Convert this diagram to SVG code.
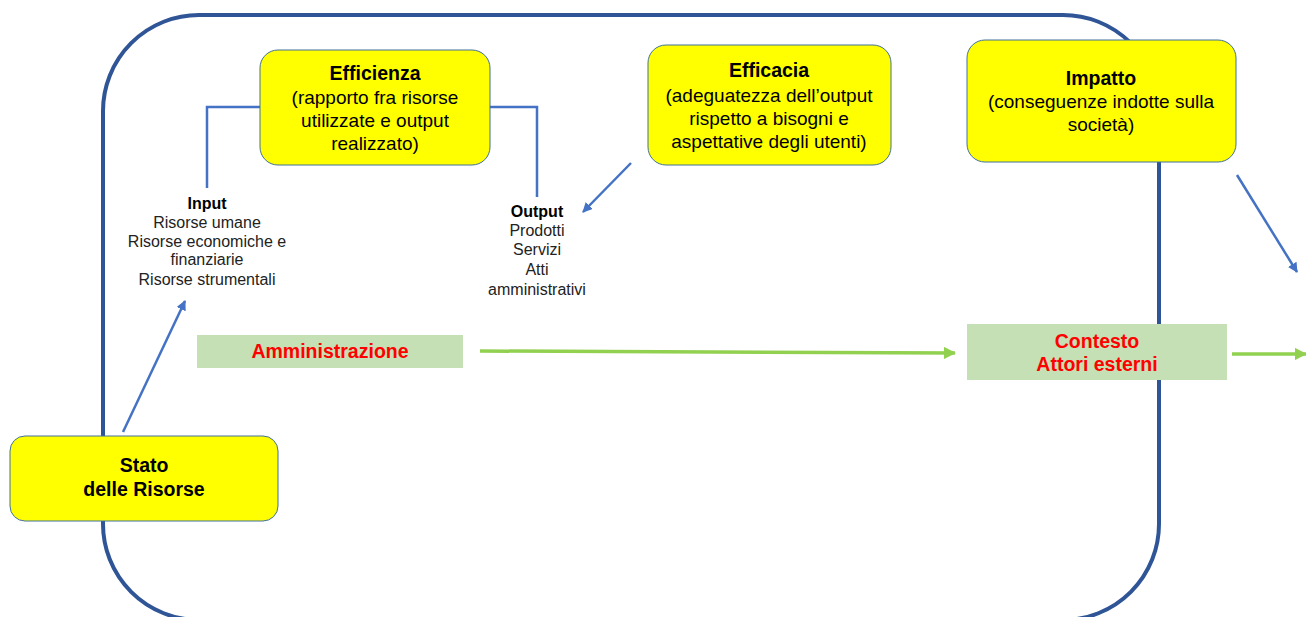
<svg xmlns="http://www.w3.org/2000/svg" width="1306" height="617" viewBox="0 0 1306 617">
<defs>
<style>
.frame{fill:none;stroke:#2F5597;stroke-width:4}
.ybox{fill:#FFFF00;stroke:#41719C;stroke-width:1}
.gbox{fill:#C5E0B4;stroke:none}
.blue{fill:none;stroke:#4472C4;stroke-width:2.5}
.green{fill:none;stroke:#92D050;stroke-width:3.5}
text{font-family:"Liberation Sans",Arial,sans-serif;text-anchor:middle;fill:#000}
.t{font-size:19px}
.tb{font-size:19.5px;font-weight:bold}
.s{font-size:16px;fill:#222}
.sb{font-size:16px;font-weight:bold}
.r{font-size:19.5px;font-weight:bold;fill:#FF0000}
</style>
<marker id="ab" viewBox="0 0 10 10" refX="9" refY="5" markerWidth="4" markerHeight="4" orient="auto"><path d="M0,0L10,5L0,10z" fill="#4472C4"/></marker>
<marker id="ag" viewBox="0 0 10 10" refX="9" refY="5" markerWidth="3.5" markerHeight="3.5" orient="auto"><path d="M0,0L10,5L0,10z" fill="#92D050"/></marker>
</defs>
<rect id="frame" class="frame" x="103" y="15" width="1056" height="605" rx="96"/>
<g id="connectors">
<polyline class="blue" points="261,107 207,107 207,188"/>
<polyline class="blue" points="489,107 537,107 537,197"/>
<line class="blue" x1="631" y1="163" x2="583" y2="212" marker-end="url(#ab)"/>
<line class="blue" x1="123" y1="432" x2="185" y2="301" marker-end="url(#ab)"/>
<line class="blue" x1="1237" y1="175" x2="1297" y2="272" marker-end="url(#ab)"/>
<line class="green" x1="480" y1="351" x2="955" y2="353" marker-end="url(#ag)"/>
<line class="green" x1="1232" y1="354" x2="1306" y2="354" marker-end="url(#ag)"/>
</g>
<g id="efficienza">
<rect class="ybox" x="260" y="50" width="230" height="115" rx="18"/>
<text class="tb" x="375" y="80">Efficienza</text>
<text class="t" x="375" y="104">(rapporto fra risorse</text>
<text class="t" x="375" y="127">utilizzate  e output</text>
<text class="t" x="375" y="150">realizzato)</text>
</g>
<g id="efficacia">
<rect class="ybox" x="648" y="45" width="243" height="120" rx="18"/>
<text class="tb" x="769" y="77">Efficacia</text>
<text class="t" x="769" y="102">(adeguatezza dell’output</text>
<text class="t" x="769" y="125">rispetto a bisogni e</text>
<text class="t" x="769" y="148">aspettative degli utenti)</text>
</g>
<g id="impatto">
<rect class="ybox" x="967" y="40" width="269" height="122" rx="18"/>
<text class="tb" x="1101" y="85">Impatto</text>
<text class="t" x="1101" y="108">(conseguenze indotte sulla</text>
<text class="t" x="1101" y="131">società)</text>
</g>
<g id="input">
<text class="sb" x="207" y="209">Input</text>
<text class="s" x="207" y="228">Risorse umane</text>
<text class="s" x="207" y="247">Risorse economiche  e</text>
<text class="s" x="207" y="265">finanziarie</text>
<text class="s" x="207" y="285">Risorse strumentali</text>
</g>
<g id="output">
<text class="sb" x="537" y="217">Output</text>
<text class="s" x="537" y="236">Prodotti</text>
<text class="s" x="537" y="255">Servizi</text>
<text class="s" x="537" y="275">Atti</text>
<text class="s" x="537" y="295">amministrativi</text>
</g>
<g id="amministrazione">
<rect class="gbox" x="197" y="335" width="266" height="33"/>
<text class="r" x="330" y="358">Amministrazione</text>
</g>
<g id="contesto">
<rect class="gbox" x="967" y="324" width="260" height="56"/>
<text class="r" x="1097" y="348">Contesto</text>
<text class="r" x="1097" y="371">Attori esterni</text>
</g>
<g id="stato">
<rect class="ybox" x="10" y="436" width="268" height="85" rx="15"/>
<text class="tb" x="144" y="472">Stato</text>
<text class="tb" x="144" y="496">delle Risorse</text>
</g>
</svg>
